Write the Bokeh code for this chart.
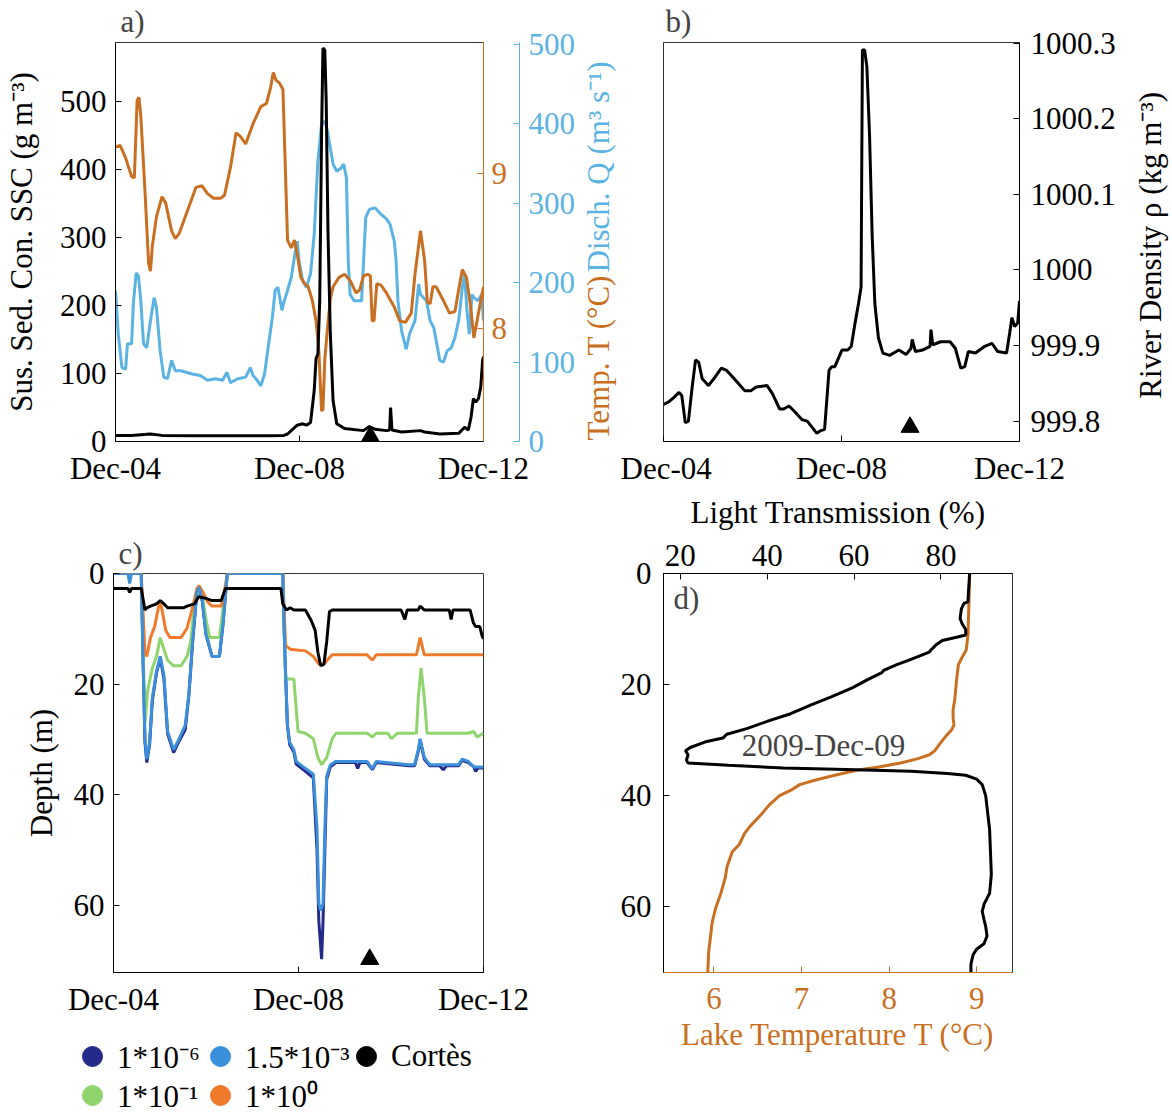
import math
from bokeh.plotting import figure
from bokeh.models import Range1d, LinearAxis, FixedTicker, Label, Legend, LegendItem
from bokeh.layouts import column, row
from bokeh.embed import file_html
from bokeh.resources import INLINE

# ---------------- data ----------------
DAY_TICKS = [4, 8, 12]
DAY_LABELS = ["Dec-04", "Dec-08", "Dec-12"]

# panel a: suspended sediment concentration (g m-3)
ssc_day = [4.00, 4.35, 4.76, 5.01, 5.67, 6.50, 7.33, 7.66, 7.74, 7.82, 7.95, 8.07, 8.15, 8.24, 8.32, 8.36,
           8.40, 8.44, 8.48, 8.51, 8.55, 8.58, 8.62, 8.67, 8.73, 8.81, 8.98, 9.39, 9.52, 9.64, 9.89, 9.96,
           9.98, 10.01, 10.22, 10.63, 10.72, 11.05, 11.46, 11.59, 11.67, 11.73, 11.78, 11.83, 11.89, 11.94,
           11.98, 12.00]
ssc_val = [9, 9, 11, 9, 8.5, 8.5, 8.5, 9, 11, 16, 24, 26, 24, 28, 75, 122,
           129, 208, 453, 579, 576, 502, 306, 159, 60, 26, 19, 16, 22, 18, 16, 17,
           50, 17, 14, 16, 14, 11, 12, 21, 17, 36, 63, 58, 63, 80,
           119, 125]

# panel a: discharge (m3 s-1)
q_day = [4.00, 4.06, 4.14, 4.22, 4.26, 4.35, 4.39, 4.45, 4.50, 4.55, 4.61, 4.68, 4.76, 4.84, 4.89, 4.97,
         5.05, 5.13, 5.22, 5.30, 5.42, 5.67, 5.84, 6.00, 6.17, 6.33, 6.42, 6.50, 6.66, 6.83, 6.93, 6.99,
         7.08, 7.16, 7.24, 7.33, 7.41, 7.47, 7.53, 7.62, 7.66, 7.74, 7.82, 7.90, 7.95, 7.99, 8.07, 8.15,
         8.24, 8.32, 8.40, 8.48, 8.55, 8.61, 8.67, 8.73, 8.81, 8.90, 8.96, 9.02, 9.06, 9.10, 9.19, 9.35,
         9.44, 9.52, 9.64, 9.77, 9.89, 9.97, 10.06, 10.10, 10.14, 10.22, 10.32, 10.39, 10.51, 10.59, 10.63,
         10.76, 10.84, 10.92, 11.05, 11.13, 11.21, 11.30, 11.38, 11.46, 11.54, 11.59, 11.64, 11.69, 11.75,
         11.79, 11.88, 11.96, 12.00]
q_val = [190, 135, 93, 91, 123, 123, 175, 212, 208, 177, 123, 118, 152, 181, 169, 114,
         81, 79, 102, 89, 89, 85, 83, 77, 79, 77, 87, 74, 79, 81, 93, 83,
         77, 70, 85, 123, 156, 190, 194, 165, 175, 190, 206, 236, 252, 227, 202, 194,
         211, 261, 353, 399, 403, 390, 369, 349, 340, 344, 349, 332, 227, 185, 177, 177,
         282, 292, 294, 286, 280, 273, 252, 227, 177, 139, 116, 135, 152, 198, 185,
         177, 152, 143, 102, 100, 114, 118, 131, 152, 194, 211, 165, 135, 185,
         181, 177, 185, 152]

# panel a: river temperature (deg C)
temp_day = [4.00, 4.10, 4.22, 4.35, 4.41, 4.47, 4.51, 4.55, 4.64, 4.72, 4.76, 4.80, 4.89, 5.01, 5.09, 5.22,
            5.30, 5.38, 5.59, 5.75, 5.88, 6.00, 6.13, 6.29, 6.37, 6.50, 6.62, 6.71, 6.83, 6.99, 7.16, 7.28,
            7.37, 7.43, 7.49, 7.57, 7.64, 7.74, 7.82, 7.89, 7.95, 8.03, 8.11, 8.19, 8.28, 8.36, 8.42, 8.48,
            8.51, 8.55, 8.61, 8.67, 8.73, 8.86, 8.98, 9.10, 9.23, 9.31, 9.39, 9.48, 9.54, 9.58, 9.62, 9.68,
            9.77, 9.89, 10.06, 10.18, 10.30, 10.43, 10.51, 10.63, 10.72, 10.78, 10.84, 10.90, 10.97, 11.13,
            11.26, 11.38, 11.46, 11.54, 11.63, 11.72, 11.79, 11.86, 11.94, 12.00]
temp_val = [9.17, 9.18, 9.10, 8.98, 8.97, 9.47, 9.49, 9.37, 8.89, 8.42, 8.37, 8.53, 8.72, 8.85, 8.81, 8.63,
            8.58, 8.61, 8.78, 8.91, 8.92, 8.87, 8.84, 8.84, 8.86, 9.04, 9.26, 9.24, 9.19, 9.32, 9.43, 9.45,
            9.55, 9.65, 9.60, 9.58, 9.54, 8.57, 8.52, 8.57, 8.48, 8.33, 8.29, 8.27, 8.18, 8.05, 7.86, 7.47,
            7.48, 7.80, 8.01, 8.19, 8.27, 8.33, 8.35, 8.31, 8.23, 8.25, 8.34, 8.35, 8.34, 8.05, 8.05, 8.29,
            8.28, 8.23, 8.14, 8.05, 8.04, 8.10, 8.35, 8.63, 8.44, 8.17, 8.16, 8.27, 8.27, 8.18,
            8.10, 8.11, 8.25, 8.38, 8.33, 8.14, 7.94, 8.05, 8.18, 8.27]

# panel b: river density (kg m-3)
rho_day = [4.00, 4.11, 4.23, 4.35, 4.41, 4.49, 4.56, 4.64, 4.72, 4.79, 4.87, 5.01, 5.13, 5.30, 5.42, 5.59,
           5.83, 5.96, 6.08, 6.33, 6.45, 6.61, 6.70, 6.82, 6.94, 7.11, 7.23, 7.35, 7.44, 7.52, 7.62, 7.72,
           7.78, 7.85, 7.93, 8.01, 8.14, 8.22, 8.30, 8.38, 8.44, 8.47, 8.52, 8.57, 8.63, 8.69, 8.75, 8.83,
           8.93, 9.08, 9.29, 9.45, 9.56, 9.59, 9.66, 9.82, 9.99, 10.01, 10.05, 10.23, 10.44, 10.56, 10.68,
           10.77, 10.85, 11.01, 11.22, 11.38, 11.51, 11.71, 11.78, 11.83, 11.89, 11.96, 12.00]
rho_val = [999.822, 999.825, 999.831, 999.838, 999.834, 999.798, 999.800, 999.843, 999.881, 999.878,
           999.856, 999.847, 999.856, 999.870, 999.867, 999.856, 999.840, 999.840, 999.845, 999.847,
           999.836, 999.816, 999.816, 999.820, 999.813, 999.802, 999.800, 999.791, 999.784, 999.787,
           999.789, 999.867, 999.872, 999.872, 999.883, 999.894, 999.894, 999.899, 999.928, 999.955,
           999.977, 1000.291, 1000.291, 1000.269, 1000.179, 1000.044, 999.955, 999.910, 999.890, 999.887,
           999.894, 999.888, 999.896, 999.908, 999.892, 999.894, 999.899, 999.921, 999.901, 999.905,
           999.905, 999.896, 999.870, 999.872, 999.892, 999.890, 999.899, 999.903, 999.892, 999.890,
           999.917, 999.937, 999.925, 999.930, 999.959]

# panel c: plume depth for several thresholds (m)
cortes_day = [4.00, 4.31, 4.35, 4.39, 4.60, 4.68, 4.72, 4.80, 4.93, 5.01, 5.09, 5.17, 5.51, 5.59, 5.75, 5.84,
              6.00, 6.13, 6.33, 6.42, 7.62, 7.66, 7.74, 7.82, 7.90, 8.15, 8.28, 8.36, 8.42, 8.48, 8.55, 8.61,
              8.67, 8.73, 10.22, 10.30, 10.35, 10.59, 10.63, 10.72, 11.26, 11.30, 11.34, 11.71, 11.78, 11.83,
              11.92, 11.97, 12.00]
cortes_dep = [2.7, 2.7, 3.4, 2.7, 2.7, 6.6, 6.2, 5.9, 5.5, 4.9, 5.5, 6.2, 6.2, 5.9, 5.5, 4.2,
              4.5, 4.9, 4.9, 2.7, 2.7, 5.5, 6.6, 6.2, 6.6, 6.6, 8.6, 10.3, 14.3, 16.7, 16.4, 12.3,
              6.9, 6.6, 6.6, 8.3, 6.6, 6.6, 5.9, 6.6, 6.6, 8.3, 6.6, 6.6, 8.9, 9.6,
              9.6, 11.3, 11.8]

c1e0_day = [4.00, 4.60, 4.68, 4.72, 4.80, 4.89, 4.97, 5.01, 5.05, 5.13, 5.22, 5.46, 5.59, 5.71, 5.80, 5.85,
            5.92, 6.04, 6.13, 6.33, 6.42, 6.46, 7.66, 7.72, 7.82, 8.15, 8.32, 8.44, 8.55, 8.65, 8.73, 9.48,
            9.60, 9.68, 10.55, 10.63, 10.72, 12.00]
c1e0_dep = [0, 0, 14.3, 15.0, 11.6, 9.6, 6.2, 5.2, 6.6, 10.3, 11.6, 11.6, 9.9, 6.2, 2.8, 2.2,
            3.2, 5.2, 5.9, 5.9, 2.2, 0, 0, 13.0, 13.7, 14.0, 15.0, 16.4, 16.4, 15.4, 14.7, 14.7,
            15.7, 14.7, 14.7, 11.6, 14.7, 14.7]

c1e1_day = [4.00, 4.60, 4.68, 4.74, 4.84, 4.93, 5.01, 5.09, 5.17, 5.30, 5.46, 5.59, 5.67, 5.75, 5.84, 5.92,
            6.00, 6.08, 6.29, 6.42, 6.46, 7.66, 7.72, 7.90, 7.95, 7.99, 8.15, 8.32, 8.42, 8.50, 8.61, 8.73,
            8.81, 9.48, 9.60, 9.68, 9.93, 10.01, 10.14, 10.55, 10.59, 10.65, 10.72, 10.78, 11.67, 11.79,
            11.86, 12.00]
c1e1_dep = [0, 0, 27.2, 21.1, 17.1, 15.0, 11.6, 13.7, 15.7, 16.7, 16.7, 15.0, 12.3, 5.5, 2.8, 3.9,
            8.3, 11.6, 11.6, 2.8, 0, 0, 19.1, 19.1, 24.5, 28.6, 28.9, 29.9, 33.3, 34.6, 33.3, 29.9,
            28.9, 28.9, 29.6, 28.9, 28.9, 29.9, 28.9, 28.9, 22.5, 17.1, 22.5, 28.9, 28.9, 28.6,
            29.6, 28.9]

c15e3_day = [4.00, 4.31, 4.35, 4.39, 4.60, 4.64, 4.68, 4.72, 4.78, 4.84, 4.93, 5.01, 5.09, 5.17, 5.30, 5.42,
             5.55, 5.63, 5.71, 5.80, 5.85, 5.92, 6.00, 6.13, 6.29, 6.37, 6.46, 7.66, 7.70, 7.76, 7.81, 7.90,
             7.95, 8.15, 8.32, 8.40, 8.44, 8.48, 8.53, 8.57, 8.61, 8.69, 8.81, 9.48, 9.60, 9.68, 10.39,
             10.51, 10.59, 10.63, 10.72, 10.84, 11.46, 11.54, 11.67, 11.79, 12.00]
c15e3_dep = [0, 0, 1.8, 0, 0, 15.7, 29.9, 33.6, 30.6, 22.5, 17.7, 15.0, 18.4, 28.6, 31.9, 29.9,
             27.5, 21.8, 12.3, 3.5, 2.5, 4.9, 11.0, 15.0, 15.0, 8.9, 0, 0, 13.0, 27.2, 30.6, 31.9,
             34.0, 35.3, 36.3, 46.1, 59.7, 61.0, 59.7, 46.1, 36.7, 34.6, 34.0, 34.0, 35.3, 34.0, 34.6,
             34.6, 31.9, 29.9, 33.3, 34.6, 34.6, 33.6, 34.0, 35.0, 35.0]

c1e6_day = [4.00, 4.60, 4.64, 4.68, 4.72, 4.78, 4.84, 4.93, 5.01, 5.09, 5.17, 5.30, 5.42, 5.55, 5.63, 5.71,
            5.80, 5.85, 5.92, 6.00, 6.13, 6.29, 6.37, 6.46, 7.66, 7.70, 7.76, 7.81, 7.90, 7.95, 8.15, 8.32,
            8.40, 8.44, 8.50, 8.53, 8.57, 8.61, 8.69, 8.81, 9.23, 9.28, 9.33, 9.48, 9.60, 9.68, 10.39, 10.51,
            10.59, 10.63, 10.72, 10.84, 11.05, 11.13, 11.20, 11.46, 11.54, 11.67, 11.79, 11.83, 11.88, 12.00]
c1e6_dep = [0, 0, 16.0, 30.5, 34.2, 31.0, 23.0, 18.0, 15.3, 19.0, 29.0, 32.4, 30.3, 28.3, 22.0, 12.5,
            3.6, 2.6, 5.0, 11.0, 15.0, 15.0, 9.0, 0, 0, 13.2, 27.5, 31.0, 32.3, 34.5, 35.8, 37.0,
            50.0, 63.0, 69.8, 63.0, 50.0, 37.2, 35.0, 34.2, 34.2, 35.3, 34.2, 34.2, 35.5, 34.2, 34.8, 34.8,
            32.2, 30.2, 33.6, 34.8, 34.8, 35.5, 34.8, 34.8, 33.8, 34.2, 35.0, 35.8, 35.2, 35.2]

# panel d: lake profiles on 2009-Dec-09
lt_val = [86.6, 86.2, 85.3, 84.7, 84.4, 84.9, 85.7, 85.7, 83.6, 80.3, 79.0, 77.7, 77.3, 73.1, 69.7, 66.8,
          66.4, 63.0, 59.7, 54.6, 50.4, 45.4, 40.3, 35.3, 30.7, 29.8, 26.1, 22.3, 21.2, 21.8, 21.4, 21.8,
          31.1, 43.7, 60.5, 73.1, 81.5, 85.7, 88.2, 89.5, 90.3, 90.8, 91.2, 91.4, 91.6, 91.2, 89.9, 89.5,
          89.9, 90.3, 90.6, 89.9, 88.2, 87.4, 86.9, 86.9]
lt_dep = [0, 5.1, 5.4, 6.4, 8.1, 9.1, 10.1, 11.1, 11.5, 12.1, 12.8, 13.8, 14.2, 15.5, 16.5, 17.5,
          17.9, 19.2, 20.6, 22.3, 23.6, 25.3, 26.6, 28.0, 29.0, 29.7, 30.3, 31.4, 32.0, 32.7, 33.7, 34.2,
          34.6, 35.1, 35.4, 35.7, 36.1, 36.4, 37.1, 38.1, 40.1, 43.5, 46.2, 50.2, 54.3, 57.7, 59.7, 61.0,
          62.4, 63.7, 65.4, 66.8, 67.8, 68.8, 70.5, 72.0]
lake_t = [8.92, 8.91, 8.90, 8.88, 8.83, 8.79, 8.77, 8.75, 8.73, 8.73, 8.74, 8.71, 8.65, 8.58, 8.52, 8.46,
          8.33, 8.13, 7.88, 7.63, 7.38, 7.13, 6.98, 6.88, 6.75, 6.63, 6.54, 6.42, 6.35, 6.29, 6.21, 6.15,
          6.13, 6.08, 6.02, 5.98, 5.96, 5.94, 5.93]
lake_t_dep = [0, 5.7, 11.1, 13.8, 15.2, 16.5, 19.2, 22.6, 24.6, 26.0, 27.3, 28.3, 29.3, 30.7, 32.0, 32.7,
              33.4, 34.2, 34.9, 35.5, 36.4, 37.4, 38.1, 39.1, 40.1, 41.8, 43.5, 45.5, 46.9, 48.9, 50.2, 52.9,
              54.9, 57.7, 60.4, 63.0, 65.7, 68.4, 72.0]

# sampling event (triangle markers)
event_day = [9.54]
event_ssc = [7.4]
event_rho = [999.792]
event_dep = [69.8]

legend_labels = ["1*10\u207b\u2076", "1.5*10\u207b\u00b3", "Cort\u00e8s", "1*10\u207b\u00b9", "1*10\u2070"]

# ---------------- style ----------------
FONT = "Liberation Serif"
FS = "31px"
ORANGE = "#c96f22"
BLUE = "#5ab3e3"
C_NAVY = "#232a8a"
C_LBLUE = "#3b8fdb"
C_GREEN = "#8fd46c"
C_ORANGE = "#f07a2c"
LW = 3
NAN = float("nan")


def style_axis(ax, color="black", standoff=8):
    ax.axis_line_color = color
    ax.axis_line_width = 1
    ax.major_tick_line_color = color
    ax.major_tick_in = 6
    ax.major_tick_out = 0
    ax.minor_tick_line_color = None
    ax.major_label_text_font = FONT
    ax.major_label_text_font_size = FS
    ax.major_label_text_color = color
    ax.major_label_standoff = standoff
    ax.axis_label_text_font = FONT
    ax.axis_label_text_font_size = FS
    ax.axis_label_text_color = color
    ax.axis_label_text_font_style = "normal"


def make_fig(width, height, xr, yr, borders, **kw):
    p = figure(width=width, height=height, x_range=xr, y_range=yr,
               output_backend="svg", toolbar_location=None,
               min_border_left=borders[0], min_border_right=borders[1],
               min_border_top=borders[2], min_border_bottom=borders[3], **kw)
    p.xgrid.visible = False
    p.ygrid.visible = False
    p.outline_line_color = "#333333"
    p.outline_line_width = 1
    p.background_fill_color = "white"
    p.border_fill_color = "white"
    return p


def blank_fig(width, height, yr, top=0, bottom=0):
    # plot without axes or outline, used to hold free-standing texts / the legend
    p = figure(width=width, height=height, x_range=Range1d(0, width), y_range=yr,
               output_backend="svg", toolbar_location=None,
               x_axis_location=None, y_axis_location=None,
               min_border_left=0, min_border_right=0, min_border_top=top, min_border_bottom=bottom)
    p.xgrid.visible = False
    p.ygrid.visible = False
    p.outline_line_color = None
    p.background_fill_color = "white"
    p.border_fill_color = "white"
    return p


def day_axis(ax):
    ax.ticker = FixedTicker(ticks=DAY_TICKS)
    ax.major_label_overrides = {t: l for t, l in zip(DAY_TICKS, DAY_LABELS)}


def panel_title(p, txt, offset, standoff, valign="bottom"):
    p.title.text = txt
    p.title.align = "left"
    p.title.offset = offset
    p.title.standoff = standoff
    p.title.vertical_align = valign
    p.title.text_font = FONT
    p.title.text_font_size = FS
    p.title.text_font_style = "normal"


def vtext(p, txt, x, y, color, align):
    p.add_layout(Label(x=x, y=y, text=txt, angle=math.pi / 2, text_font=FONT, text_font_size=FS,
                       text_color=color, text_align=align, text_baseline="middle"))


ROW1_H = 490
ROW2_H = 1115 - ROW1_H
R1_TOP, R1_BOT = 42, 441          # frame edges of the top row (page pixels)


def text_strip(width):
    # frame matches the top-row panels vertically; y counts pixels up from the strip bottom
    return blank_fig(width, ROW1_H, Range1d(ROW1_H - R1_BOT, ROW1_H - R1_TOP),
                     top=R1_TOP, bottom=ROW1_H - R1_BOT)


# ---------------- panel a ----------------
A_W = 580
A_B = (113, A_W - 483, R1_TOP, ROW1_H - R1_BOT)
fa = make_fig(A_W, ROW1_H, Range1d(4, 12), Range1d(0, 587), A_B)
fa.extra_y_ranges = {"temp": Range1d(7.273, 9.843), "q": Range1d(0, 502)}
style_axis(fa.yaxis[0], standoff=9)
fa.yaxis[0].ticker = FixedTicker(ticks=[0, 100, 200, 300, 400, 500])
fa.yaxis[0].axis_label = "Sus. Sed. Con. SSC (g m\u207b\u00b3)"
fa.yaxis[0].axis_label_standoff = 18
style_axis(fa.xaxis[0], standoff=9)
day_axis(fa.xaxis[0])
ax_t = LinearAxis(y_range_name="temp", ticker=FixedTicker(ticks=[8, 9]))
style_axis(ax_t, ORANGE, standoff=8)
ax_t.axis_label = " "
ax_t.axis_label_text_font_size = "6px"
ax_t.axis_label_standoff = 0
ax_q = LinearAxis(y_range_name="q", ticker=FixedTicker(ticks=[0, 100, 200, 300, 400, 500]))
style_axis(ax_q, BLUE, standoff=9)
fa.add_layout(ax_t, "right")
fa.add_layout(ax_q, "right")
fa.line(q_day, q_val, color=BLUE, line_width=LW, y_range_name="q")
fa.line(temp_day, temp_val, color=ORANGE, line_width=LW, y_range_name="temp")
fa.line(ssc_day, ssc_val, color="black", line_width=LW)
fa.scatter(event_day, event_ssc, marker="triangle", size=18, color="black")
panel_title(fa, "a)", 5, 4, "top")

# strip holding the two-coloured right-hand label of panel a
S1_W = 40
sa = text_strip(S1_W)
vtext(sa, "Temp. T (\u00b0C)", 598 - A_W, ROW1_H - 440, ORANGE, "left")
vtext(sa, "Disch. Q (m\u00b3 s\u207b\u00b9)", 598 - A_W, ROW1_H - 272, BLUE, "left")

# ---------------- panel b ----------------
B_X0 = A_W + S1_W
B_X1 = 1130
B_W = B_X1 - B_X0
B_B = (663 - B_X0, B_X1 - 1019, R1_TOP, ROW1_H - R1_BOT)
fb = make_fig(B_W, ROW1_H, Range1d(4, 12), Range1d(999.773, 1000.301), B_B, y_axis_location="right")
style_axis(fb.yaxis[0], standoff=11)
fb.yaxis[0].ticker = FixedTicker(ticks=[999.8, 999.9, 1000.0, 1000.1, 1000.2, 1000.3])
fb.yaxis[0].major_label_overrides = {999.8: "999.8", 999.9: "999.9", 1000.0: "1000",
                                     1000.1: "1000.1", 1000.2: "1000.2", 1000.3: "1000.3"}
style_axis(fb.xaxis[0], standoff=9)
day_axis(fb.xaxis[0])
fb.line(rho_day, rho_val, color="black", line_width=LW)
fb.scatter(event_day, event_rho, marker="triangle", size=18, color="black")
panel_title(fb, "b)", 2, 4, "top")

sb = text_strip(1172 - B_X1)
vtext(sb, "River Density  \u03c1 (kg m\u207b\u00b3)", 1150 - B_X1, ROW1_H - 241, "black", "center")

# ---------------- panel c ----------------
C_W = 575
LEG_H = 85
C_H = ROW2_H - LEG_H
C_B = (113, C_W - 483, 83, C_H - 83 - 399)
fc = make_fig(C_W, C_H, Range1d(4, 12), Range1d(72.2, 0), C_B)
style_axis(fc.yaxis[0], standoff=9)
fc.yaxis[0].ticker = FixedTicker(ticks=[0, 20, 40, 60])
fc.yaxis[0].axis_label = "Depth (m)"
fc.yaxis[0].axis_label_standoff = 12
style_axis(fc.xaxis[0], standoff=9)
day_axis(fc.xaxis[0])
fc.line(c1e6_day, c1e6_dep, color=C_NAVY, line_width=LW)
fc.line(c1e1_day, c1e1_dep, color=C_GREEN, line_width=LW)
fc.line(c1e0_day, c1e0_dep, color=C_ORANGE, line_width=LW)
fc.line(c15e3_day, c15e3_dep, color=C_LBLUE, line_width=LW)
fc.line(cortes_day, cortes_dep, color="black", line_width=LW)
fc.scatter(event_day, event_dep, marker="triangle", size=18, color="black")
panel_title(fc, "c)", 5, 6)

# legend strip under panel c: one legend entry per placed slot (page-pixel centre of its dot)
fl = blank_fig(C_W, LEG_H, Range1d(0, LEG_H))
leg_colors = [C_NAVY, C_LBLUE, "black", C_GREEN, C_ORANGE]
LEG_SLOTS = [(92, 1056), (220, 1056), (366, 1056), (92, 1095), (220, 1095)]
GLY = 50
LEG_TOP = ROW1_H + C_H
for lab, col, (cx, cy) in zip(legend_labels, leg_colors, LEG_SLOTS):
    r = fl.scatter(x=[NAN], y=[NAN], marker="circle", size=20, color=col)
    lg = Legend(items=[LegendItem(label=lab, renderers=[r])],
                location=(cx - GLY // 2, LEG_H - (cy - LEG_TOP) - GLY // 2),
                glyph_width=GLY, glyph_height=GLY, label_standoff=0, spacing=0, padding=0, margin=0,
                label_text_font=FONT, label_text_font_size=FS, label_text_color="black",
                label_text_baseline="middle",
                border_line_color=None, background_fill_alpha=0)
    fl.add_layout(lg)

# ---------------- panel d ----------------
D_W = 1172 - C_W
D_B = (663 - C_W, 1172 - 1012, 83, ROW2_H - 83 - 399)
T_LO, T_HI = 5.425, 9.408
fd = make_fig(D_W, ROW2_H, Range1d(T_LO, T_HI), Range1d(72.0, 0), D_B)
fd.extra_x_ranges = {"lt": Range1d(16.13, 96.47)}
style_axis(fd.yaxis[0], standoff=12)
fd.yaxis[0].ticker = FixedTicker(ticks=[0, 20, 40, 60])
style_axis(fd.xaxis[0], ORANGE, standoff=15)
fd.xaxis[0].ticker = FixedTicker(ticks=[6, 7, 8, 9])
fd.xaxis[0].axis_label = "Lake Temperature T (\u00b0C)"
fd.xaxis[0].axis_label_standoff = 5
ax_lt = LinearAxis(x_range_name="lt", ticker=FixedTicker(ticks=[20, 40, 60, 80]))
style_axis(ax_lt, standoff=8)
ax_lt.axis_label = "Light Transmission (%)"
ax_lt.axis_label_standoff = 12
fd.add_layout(ax_lt, "above")
fd.line(lake_t, lake_t_dep, color=ORANGE, line_width=LW)
fd.line(lt_val, lt_dep, color="black", line_width=LW, x_range_name="lt")
D_FW = D_W - D_B[0] - D_B[1]
xpx_d = (T_HI - T_LO) / D_FW
ypx_d = 72.0 / 399
fd.add_layout(Label(x=T_LO + 10 * xpx_d, y=25 * ypx_d, text="d)", text_font=FONT, text_font_size=FS,
                    text_align="left", text_baseline="middle"))
fd.add_layout(Label(x=T_LO + (823 - 663) * xpx_d, y=(745 - 573) * ypx_d, text="2009-Dec-09",
                    text_font=FONT, text_font_size=FS, text_align="center", text_baseline="middle"))

layout = column(row(fa, sa, fb, sb, spacing=0),
                row(column(fc, row(fl, spacing=0), spacing=0), fd, spacing=0), spacing=0)
open("out.html", "w").write(file_html(layout, INLINE))
